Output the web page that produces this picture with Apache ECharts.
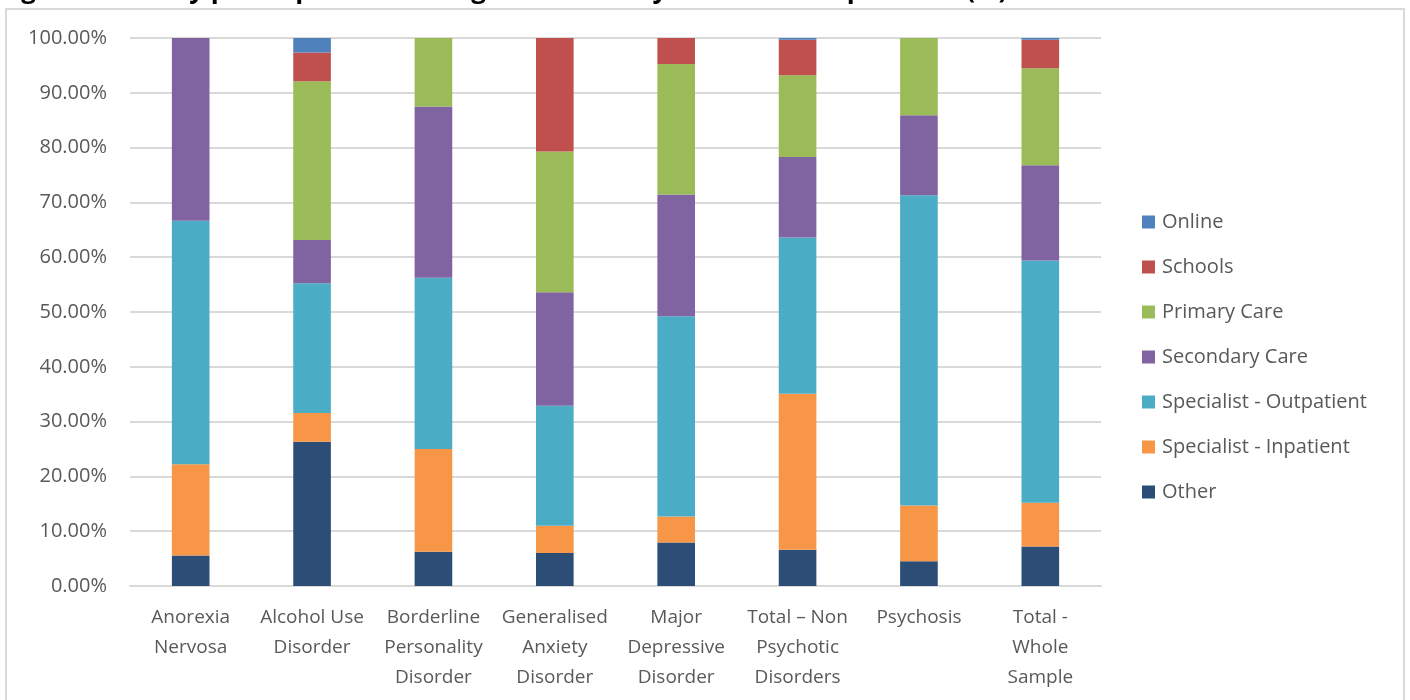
<!DOCTYPE html>
<html>
<head>
<meta charset="utf-8">
<script src="https://cdn.jsdelivr.net/npm/echarts@6/dist/echarts.min.js"></script>
<style>
html,body{margin:0;padding:0;background:#fff;}
#chart{width:1410px;height:700px;}
</style>
</head>
<body>
<div id="chart"></div>
<script>
const titleText = "Figure 1: Survey participants – setting in which they have most experience (%)";
const categories = [
  "Anorexia\nNervosa",
  "Alcohol Use\nDisorder",
  "Borderline\nPersonality\nDisorder",
  "Generalised\nAnxiety\nDisorder",
  "Major\nDepressive\nDisorder",
  "Total – Non\nPsychotic\nDisorders",
  "Psychosis",
  "Total -\nWhole\nSample"
];
const yTicks = [0, 0.1, 0.2, 0.3, 0.4, 0.5, 0.6, 0.7, 0.8, 0.9, 1.0];
// values as fractions of 1
const other       = [0.0556, 0.2632, 0.0625, 0.060, 0.0794, 0.066, 0.045, 0.072];
const inpatient   = [0.1667, 0.0526, 0.1875, 0.050, 0.0476, 0.285, 0.102, 0.080];
const outpatient  = [0.4444, 0.2368, 0.3125, 0.219, 0.3651, 0.285, 0.566, 0.442];
const secondary   = [0.3333, 0.0789, 0.3125, 0.207, 0.2222, 0.147, 0.146, 0.174];
const primary     = [0.0000, 0.2895, 0.1250, 0.257, 0.2381, 0.149, 0.141, 0.177];
const schools     = [0.0000, 0.0526, 0.0000, 0.207, 0.0476, 0.065, 0.000, 0.052];
const online      = [0.0000, 0.0263, 0.0000, 0.000, 0.0000, 0.003, 0.000, 0.003];

const seriesDefs = [
  {name: "Other", data: other, color: "#2C4D75"},
  {name: "Specialist - Inpatient", data: inpatient, color: "#F79646"},
  {name: "Specialist - Outpatient", data: outpatient, color: "#4BACC6"},
  {name: "Secondary Care", data: secondary, color: "#8064A2"},
  {name: "Primary Care", data: primary, color: "#9BBB59"},
  {name: "Schools", data: schools, color: "#C0504D"},
  {name: "Online", data: online, color: "#4F81BD"}
];
const legendOrder = ["Online", "Schools", "Primary Care", "Secondary Care", "Specialist - Outpatient", "Specialist - Inpatient", "Other"];

const FONT = "'Open Sans', 'Noto Sans', sans-serif";
const chart = echarts.init(document.getElementById('chart'), null, {renderer: 'canvas'});
chart.setOption({
  animation: false,
  backgroundColor: '#fff',
  graphic: [
    {type: 'rect', shape: {x: 6, y: 9, width: 1398, height: 720}, style: {fill: 'none', stroke: '#d9d9d9', lineWidth: 2}, silent: true, z: 0},
    {type: 'text', left: -1, top: -22, style: {text: titleText, font: "bold 26px 'Open Sans', sans-serif", fill: '#000'}, z: 10}
  ],
  grid: {left: 130, right: 309, top: 38, bottom: 114, containLabel: false},
  legend: {
    orient: 'vertical',
    left: 1137,
    top: 207,
    itemWidth: 13,
    itemHeight: 13,
    itemGap: 25,
    icon: 'rect',
    data: legendOrder,
    textStyle: {fontFamily: FONT, fontSize: 20, color: '#595959', padding: [0, 0, 0, 2]}
  },
  xAxis: {
    type: 'category',
    data: categories,
    axisLine: {lineStyle: {color: '#d9d9d9', width: 2}},
    axisTick: {show: false},
    axisLabel: {fontFamily: FONT, fontSize: 19, color: '#595959', lineHeight: 30, margin: 17, interval: 0}
  },
  yAxis: {
    type: 'value',
    min: 0, max: 1, interval: 0.1,
    axisLine: {show: false},
    axisTick: {show: false},
    splitLine: {lineStyle: {color: '#d9d9d9', width: 2}},
    axisLabel: {
      fontFamily: FONT, fontSize: 20, color: '#595959', margin: 23,
      formatter: v => (v * 100).toFixed(2) + '%'
    }
  },
  series: seriesDefs.map(s => ({
    name: s.name,
    type: 'bar',
    stack: 'total',
    data: s.data,
    barWidth: '31%',
    itemStyle: {color: s.color},
    emphasis: {disabled: true}
  }))
});
</script>
</body>
</html>
